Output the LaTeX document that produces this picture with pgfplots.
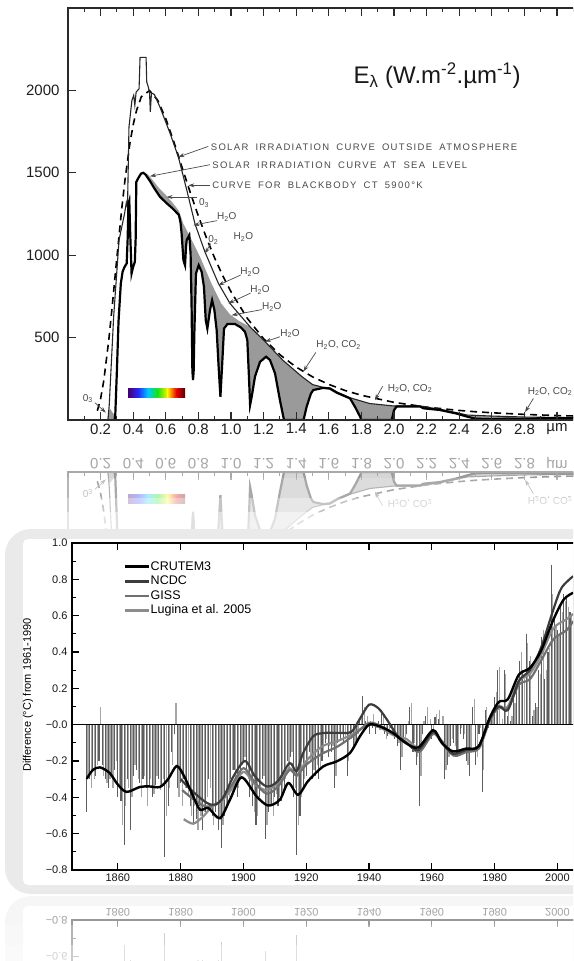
\documentclass[border=0pt]{standalone}
\usepackage{pgfplots}
\pgfplotsset{compat=1.18}
\usepackage{pgfplotstable}
\usetikzlibrary{arrows.meta}
\usepackage{graphicx}
\usepackage{fontspec}
\setmainfont{Liberation Sans}
\newfontfamily\annofamily[LetterSpace=14,WordSpace=1.8]{Liberation Sans}

\definecolor{fillgray}{HTML}{9A9A9A}
\definecolor{anno}{HTML}{4A4A4A}
\definecolor{framec}{HTML}{2A2A2A}
\definecolor{panelgray}{HTML}{EAEAEA}
\definecolor{barA}{HTML}{5E5E5E}
\definecolor{barB}{HTML}{A6A6A6}
\definecolor{ncdc}{HTML}{3C3C3C}
\definecolor{giss}{HTML}{707070}
\definecolor{lug}{HTML}{8C8C8C}

\newcommand\flip[1]{#1}

% ---------- solar spectrum data ----------
\pgfplotstableread{
x y
0.18 56
0.20 129
0.22 242
0.25 484
0.27 677
0.30 987
0.33 1285
0.35 1460
0.38 1681
0.40 1792
0.42 1877
0.45 1962
0.50 1999
0.55 1941
0.60 1828
0.65 1686
0.70 1532
0.75 1380
0.80 1237
0.85 1103
0.90 982
0.95 874
1.00 778
1.10 617
1.20 493
1.30 396
1.40 321
1.50 262
1.60 216
1.70 179
1.80 150
2.00 107
2.20 78
2.40 58
2.50 50
2.60 44
2.80 34
3.00 27
3.12 24
}\tabBB

\pgfplotstableread{
x y
0.245 0
0.253 91
0.28 626
0.313 1091
0.347 1253
0.358 1320
0.365 1290
0.374 1777
0.392 1939
0.403 1970
0.41 1910
0.418 1990
0.436 2010
0.442 2200
0.479 2200
0.483 2050
0.49 2030
0.50 1990
0.505 1870
0.512 1985
0.53 1975
0.564 1899
0.626 1740
0.677 1596
0.73 1390
0.779 1190
0.84 1020
0.922 830
0.994 707
1.117 565
1.209 475
1.321 360
1.433 265
1.5 215
1.566 198
1.607 195
1.65 170
1.73 135
1.85 100
2.0 85
2.16 85
2.2 78
2.28 66
2.38 45
2.45 30
2.6 24
2.8 18
3.12 14
}\tabT

\pgfplotstableread{
x y
0.462 1500
0.49 1490
0.52 1455
0.56 1405
0.60 1365
0.64 1320
0.68 1270
0.707 1192
0.744 1121
0.81 990
0.88 828
0.94 707
0.994 640
1.05 600
1.117 565
1.209 475
1.321 360
1.433 265
1.5 215
1.566 198
1.607 195
1.65 170
1.73 135
1.85 100
2.0 85
2.16 85
2.2 78
2.28 66
2.38 45
2.45 30
2.6 24
2.8 18
3.12 14
3.12 10
3.0 12
2.9 10
2.8 5
2.7 8
2.6 5
2.5 8
2.45 20
2.38 40
2.28 61
2.18 71
2.16 82
2.016 82
2.0 60
1.986 0
1.80 0
1.792 20
1.76 81
1.73 131
1.65 165
1.607 190
1.566 195
1.505 182
1.49 160
1.464 81
1.445 0
1.325 0
1.3 121
1.27 283
1.239 364
1.215 384
1.178 353
1.147 263
1.127 141
1.117 91
1.11 263
1.1 485
1.086 535
1.06 562
1.025 582
0.978 582
0.957 555
0.945 323
0.935 141
0.924 323
0.912 545
0.898 667
0.884 727
0.871 667
0.855 555
0.845 606
0.834 808
0.82 899
0.802 939
0.785 889
0.775 525
0.771 300
0.767 242
0.763 300
0.758 700
0.752 1010
0.744 1121
0.728 1091
0.724 1050
0.718 939
0.708 970
0.697 1131
0.69 1200
0.68 1245
0.64 1285
0.60 1320
0.564 1355
0.53 1405
0.503 1450
0.475 1490
0.462 1500
}\tabFill

\pgfplotstableread{
x y
0.285 0
0.29 30
0.30 300
0.31 600
0.324 828
0.335 900
0.347 929
0.36 950
0.366 1100
0.371 1313
0.376 1330
0.381 1150
0.39 889
0.40 930
0.41 960
0.415 1100
0.419 1444
0.43 1466
0.448 1495
0.462 1500
0.475 1490
0.503 1450
0.53 1405
0.564 1355
0.60 1320
0.64 1285
0.68 1245
0.69 1200
0.697 1131
0.708 970
0.718 939
0.724 1050
0.728 1091
0.744 1121
0.752 1010
0.758 700
0.763 300
0.767 242
0.771 300
0.775 525
0.785 889
0.802 939
0.82 899
0.834 808
0.845 606
0.855 555
0.871 667
0.884 727
0.898 667
0.912 545
0.924 323
0.935 141
0.945 323
0.957 555
0.978 582
1.025 582
1.06 562
1.086 535
1.1 485
1.11 263
1.117 91
1.127 141
1.147 263
1.178 353
1.215 384
1.239 364
1.27 283
1.3 121
1.325 0
1.445 0
1.464 81
1.49 160
1.505 182
1.566 195
1.607 190
1.65 165
1.73 131
1.76 81
1.792 20
1.80 0
1.986 0
2.0 60
2.016 82
2.16 82
2.18 71
2.28 61
2.38 40
2.45 20
2.5 8
2.6 5
2.7 8
2.8 5
2.9 10
3.0 12
3.12 10
}\tabS

% ---------- temperature data ----------
\pgfplotstableread{
year a b
1850 -0.48 -0.28
1851 -0.30 -0.35
1852 -0.25 -0.30
1853 -0.28 -0.22
1854 -0.20 0.10
1855 -0.22 -0.28
1856 -0.30 -0.32
1857 -0.35 -0.30
1858 -0.28 -0.35
1859 -0.25 -0.20
1860 -0.40 -0.33
1861 -0.42 -0.55
1862 -0.66 -0.45
1863 -0.30 -0.35
1864 -0.58 -0.40
1865 -0.28 -0.22
1866 -0.25 -0.30
1867 -0.32 -0.40
1868 -0.30 -0.28
1869 -0.35 -0.45
1870 -0.34 -0.30
1871 -0.40 -0.38
1872 -0.33 -0.28
1873 -0.30 -0.36
1874 -0.34 -0.30
1875 -0.73 -0.50
1876 -0.45 -0.35
1877 -0.15 -0.22
1878 -0.05 0.12
1879 -0.35 -0.40
1880 -0.32 -0.45
1881 -0.30 -0.35
1882 -0.35 -0.40
1883 -0.45 -0.50
1884 -0.55 -0.45
1885 -0.52 -0.58
1886 -0.45 -0.50
1887 -0.58 -0.48
1888 -0.48 -0.40
1889 -0.30 -0.35
1890 -0.50 -0.55
1891 -0.48 -0.45
1892 -0.58 -0.52
1893 -0.68 -0.55
1894 -0.50 -0.45
1895 -0.45 -0.40
1896 -0.30 -0.25
1897 -0.25 -0.30
1898 -0.40 -0.35
1899 -0.28 -0.22
1900 -0.20 -0.18
1901 -0.25 -0.30
1902 -0.40 -0.35
1903 -0.45 -0.48
1904 -0.55 -0.50
1905 -0.40 -0.35
1906 -0.30 -0.28
1907 -0.63 -0.55
1908 -0.48 -0.45
1909 -0.45 -0.50
1910 -0.40 -0.38
1911 -0.45 -0.40
1912 -0.42 -0.38
1913 -0.35 -0.30
1914 -0.20 -0.25
1915 -0.18 -0.15
1916 -0.40 -0.35
1917 -0.72 -0.55
1918 -0.50 -0.40
1919 -0.35 -0.30
1920 -0.28 -0.22
1921 -0.15 -0.20
1922 -0.30 -0.25
1923 -0.28 -0.22
1924 -0.30 -0.25
1925 -0.20 -0.15
1926 -0.10 -0.08
1927 -0.18 -0.12
1928 -0.15 -0.12
1929 -0.35 -0.28
1930 -0.10 -0.05
1931 -0.08 -0.05
1932 -0.10 -0.06
1933 -0.28 -0.20
1934 -0.05 -0.08
1935 -0.12 -0.10
1936 -0.10 -0.05
1937 0.02 0.05
1938 0.16 0.10
1939 0.02 0.05
1940 -0.05 0.02
1941 -0.02 0.06
1942 -0.05 -0.02
1943 0.02 -0.03
1944 0.08 0.05
1945 -0.05 -0.08
1946 -0.06 -0.03
1947 -0.02 -0.05
1948 -0.08 -0.06
1949 -0.12 -0.10
1950 -0.25 -0.18
1951 -0.10 -0.08
1952 -0.05 0.02
1953 0.10 0.12
1954 -0.15 -0.10
1955 -0.22 -0.18
1956 -0.45 -0.28
1957 -0.05 0.02
1958 0.05 0.10
1959 0.00 0.03
1960 -0.08 -0.05
1961 0.04 0.06
1962 0.03 0.08
1963 0.00 0.05
1964 -0.30 -0.25
1965 -0.22 -0.18
1966 -0.12 -0.08
1967 -0.10 -0.12
1968 -0.18 -0.15
1969 -0.05 -0.02
1970 -0.08 -0.05
1971 -0.20 -0.22
1972 -0.28 -0.15
1973 0.10 0.14
1974 -0.22 -0.18
1975 -0.05 -0.02
1976 -0.37 -0.25
1977 0.08 0.10
1978 -0.02 0.02
1979 0.05 0.08
1980 0.15 0.18
1981 0.30 0.32
1982 0.00 0.03
1983 0.30 0.28
1984 0.05 0.08
1985 0.02 0.05
1986 0.15 0.12
1987 0.20 0.25
1988 0.35 0.40
1989 0.30 0.28
1990 0.50 0.45
1991 0.35 0.38
1992 0.05 0.08
1993 0.12 0.10
1994 0.30 0.28
1995 0.48 0.52
1996 0.25 0.30
1997 0.40 0.42
1998 0.88 0.72
1999 0.60 0.55
2000 0.52 0.50
2001 0.65 0.62
2002 0.72 0.68
2003 0.70 0.65
2004 0.62 0.60
2005 0.80 0.75
}\tabBars

\pgfplotstableread{
x y
1850.1 -0.298
1852 -0.25
1854.3 -0.235
1857.4 -0.266
1860 -0.33
1862.8 -0.370
1867 -0.343
1870 -0.34
1873.4 -0.343
1876 -0.30
1878.7 -0.228
1881 -0.28
1884 -0.395
1886.2 -0.468
1888.8 -0.459
1892.5 -0.515
1895.7 -0.413
1899.4 -0.29
1904.2 -0.395
1907.9 -0.445
1911.6 -0.413
1914.3 -0.321
1917.4 -0.386
1920.6 -0.31
1925.4 -0.23
1929.7 -0.202
1933.9 -0.156
1937.1 -0.064
1940 0.0
1943.5 -0.01
1947.6 -0.046
1951.6 -0.10
1955.7 -0.125
1960.4 -0.03
1963.2 -0.10
1966.7 -0.147
1970.8 -0.132
1974.9 -0.119
1978.4 0.037
1981.3 0.125
1984.2 0.14
1987.7 0.275
1991.2 0.312
1994.7 0.404
1998.7 0.578
2002 0.689
2005 0.726
}\tabCru

\pgfplotstableread{
x y
1880 -0.30
1884 -0.37
1888.3 -0.43
1891 -0.44
1893.6 -0.40
1896.8 -0.285
1900.5 -0.20
1903.7 -0.285
1907.4 -0.34
1911 -0.31
1914.7 -0.211
1916.9 -0.257
1919 -0.156
1922.2 -0.064
1925.4 -0.046
1930 -0.045
1934.3 -0.04
1937 0.03
1940 0.11
1943 0.09
1946 0.02
1949 -0.06
1952 -0.10
1955.7 -0.14
1960.4 -0.04
1963.2 -0.10
1966.7 -0.16
1970.8 -0.14
1974.9 -0.12
1978.4 0.03
1981.3 0.10
1984.2 0.08
1987.7 0.24
1991.2 0.30
1994.7 0.42
1998.7 0.634
2001.3 0.753
2005 0.817
}\tabNcdc

\pgfplotstableread{
x y
1880.5 -0.36
1884 -0.41
1888 -0.45
1892 -0.43
1896 -0.34
1900 -0.24
1903.7 -0.32
1907.4 -0.38
1911 -0.34
1914.7 -0.25
1917 -0.28
1920 -0.22
1925 -0.16
1930 -0.12
1935 -0.06
1940 0.01
1944 -0.01
1948 -0.05
1952 -0.10
1956 -0.15
1960.4 -0.05
1963.2 -0.09
1967 -0.17
1971 -0.15
1975 -0.13
1978.4 0.02
1981.3 0.10
1984.2 0.09
1987.7 0.22
1991.2 0.25
1994.7 0.35
1998.7 0.47
2002.9 0.52
2005 0.57
}\tabGiss

\pgfplotstableread{
x y
1881 -0.52
1884 -0.545
1887.2 -0.505
1890 -0.45
1893 -0.42
1896 -0.36
1900 -0.26
1903.7 -0.33
1907.4 -0.36
1911 -0.32
1914.7 -0.24
1917 -0.28
1920 -0.20
1925 -0.12
1930 -0.09
1935 -0.05
1940 0.00
1944 -0.02
1948 -0.06
1952 -0.08
1956 -0.13
1960.4 -0.05
1963.2 -0.10
1967 -0.17
1971 -0.14
1975 -0.13
1978.4 0.03
1981.3 0.09
1984.2 0.10
1987.7 0.24
1991.2 0.28
1994.7 0.38
1998.7 0.53
2002.9 0.58
2005 0.61
}\tabLug

\pgfplotsset{
  topaxis/.style={
    scale only axis, width=508.6pt, height=412pt,
    xmin=0, xmax=3.12, ymin=0, ymax=2500,
    axis on top,
    axis line style={framec, line width=1.3pt},
    xtick={0.2,0.4,0.6,0.8,1.0,1.2,1.4,1.6,1.8,2.0,2.2,2.4,2.6,2.8,3.0},
    xticklabels={\flip{0.2},\flip{0.4},\flip{0.6},\flip{0.8},\flip{1.0},\flip{1.2},\flip{1.4},\flip{1.6},\flip{1.8},\flip{2.0},\flip{2.2},\flip{2.4},\flip{2.6},\flip{2.8},\flip{µm}},
    minor xtick={0.1,0.3,0.5,0.7,0.9,1.1,1.3,1.5,1.7,1.9,2.1,2.3,2.5,2.7,2.9,3.1},
    ytick={500,1000,1500,2000},
    yticklabels={500,1000,1500,2000},
    tick align=inside, xtick pos=both, xticklabel pos=lower, ytick pos=left,
    major tick length=8pt, minor tick length=4pt,
    every tick/.style={framec, line width=1.1pt},
    ticklabel style={font=\fontsize{15}{18}\selectfont, text=black!88},
    yticklabel style={xshift=-5pt},
  },
  botaxis/.style={
    scale only axis, width=504.3pt, height=327pt,
    xmin=1845.4, xmax=2006, ymin=-0.8, ymax=1.0,
    axis on top,
    axis line style={black, line width=1.3pt},
    xtick={1860,1880,1900,1920,1940,1960,1980,2000},
    xticklabels={\flip{1860},\flip{1880},\flip{1900},\flip{1920},\flip{1940},\flip{1960},\flip{1980},\flip{2000}},
    ytick={-0.8,-0.6,-0.4,-0.2,0,0.2,0.4,0.6,0.8,1.0},
    yticklabels={−0.8,−0.6,−0.4,−0.2,−0.0,0.2,0.4,0.6,0.8,1.0},
    minor ytick={-0.7,-0.5,-0.3,-0.1,0.1,0.3,0.5,0.7,0.9},
    tick align=inside, xtick pos=both, xticklabel pos=lower, ytick pos=left,
    major tick length=7pt, minor tick length=4pt,
    every tick/.style={black, line width=1.2pt},
    ticklabel style={font=\fontsize{11}{13}\selectfont, text=black!90},
    yticklabel style={xshift=-1pt},
  },
}

\newcommand\anno{\annofamily\fontsize{9.5}{11}\selectfont}
\newcommand\chem{\fontsize{10}{12}\selectfont}
\tikzset{ar/.style={draw=anno, line width=0.7pt, -{Stealth[length=6pt,width=4pt,fill=black]}}}

% parts of the spectrum that also show in the reflection
\newcommand\TopLow{%
  \addplot[fill=fillgray, draw=none, forget plot] table {\tabFill};
  \addplot[fill=fillgray, draw=none, forget plot] coordinates {(0.24,0) (0.256,70) (0.288,25) (0.288,0)};
  \shade[left color={rgb,255:red,70;green,0;blue,110}, right color={rgb,255:red,40;green,40;blue,255}] (axis cs:0.369,137) rectangle (axis cs:0.43,192);
  \shade[left color={rgb,255:red,40;green,40;blue,255}, right color={rgb,255:red,0;green,200;blue,255}] (axis cs:0.43,137) rectangle (axis cs:0.49,192);
  \shade[left color={rgb,255:red,0;green,200;blue,255}, right color={rgb,255:red,20;green,230;blue,20}] (axis cs:0.49,137) rectangle (axis cs:0.55,192);
  \shade[left color={rgb,255:red,20;green,230;blue,20}, right color={rgb,255:red,255;green,240;blue,0}] (axis cs:0.55,137) rectangle (axis cs:0.61,192);
  \shade[left color={rgb,255:red,255;green,240;blue,0}, right color={rgb,255:red,230;green,0;blue,0}] (axis cs:0.61,137) rectangle (axis cs:0.665,192);
  \shade[left color={rgb,255:red,230;green,0;blue,0}, right color={rgb,255:red,90;green,0;blue,0}] (axis cs:0.665,137) rectangle (axis cs:0.718,192);
  \addplot[black, line width=1.6pt, dash pattern=on 7pt off 5pt, forget plot] table {\tabBB};
  \addplot[black!85, line width=1.1pt, forget plot] table {\tabT};
  \addplot[black, line width=2.2pt, forget plot] table {\tabS};
  \node[text=anno, font=\chem, inner sep=0pt] at (axis cs:2.098,192) {\flip{H\textsubscript{2}O, CO\textsubscript{2}}};
  \draw[ar] (axis cs:1.93,205) -- (axis cs:1.883,121);
  \node[text=anno, font=\chem, inner sep=0pt] at (axis cs:2.957,172) {\flip{H\textsubscript{2}O, CO\textsubscript{2}}};
  \draw[ar] (axis cs:2.855,131) -- (axis cs:2.804,48);
  \node[text=anno, font=\chem, inner sep=0pt] at (axis cs:0.122,131) {\flip{0\textsubscript{3}}};
  \draw[ar] (axis cs:0.165,105) -- (axis cs:0.232,45);
}
\newcommand\TopHigh{%
  \node[anchor=west, text=anno, font=\anno, inner sep=0pt] at (axis cs:0.875,1656) {SOLAR IRRADIATION CURVE OUTSIDE ATMOSPHERE};
  \draw[ar] (axis cs:0.86,1660) -- (axis cs:0.677,1596);
  \node[anchor=west, text=anno, font=\anno, inner sep=0pt] at (axis cs:0.885,1545) {SOLAR IRRADIATION CURVE AT SEA LEVEL};
  \draw[ar] (axis cs:0.87,1549) -- (axis cs:0.503,1479);
  \node[anchor=west, text=anno, font=\anno, inner sep=0pt] at (axis cs:0.885,1424) {CURVE FOR BLACKBODY CT 5900°K};
  \draw[ar] (axis cs:0.87,1424) -- (axis cs:0.738,1424);
  \node[text=anno, font=\chem, inner sep=0pt] at (axis cs:0.835,1315) {0\textsubscript{3}};
  \draw[ar] (axis cs:0.79,1353) -- (axis cs:0.605,1353);
  \node[text=anno, font=\chem, inner sep=0pt] at (axis cs:0.974,1232) {H\textsubscript{2}O};
  \draw[ar] (axis cs:0.915,1210) -- (axis cs:0.769,1182);
  \node[text=anno, font=\chem, inner sep=0pt] at (axis cs:0.892,1091) {0\textsubscript{2}};
  \node[text=anno, font=\chem, inner sep=0pt] at (axis cs:1.076,1111) {H\textsubscript{2}O};
  \draw[ar] (axis cs:0.875,1070) -- (axis cs:0.84,1010);
  \node[text=anno, font=\chem, inner sep=0pt] at (axis cs:1.117,899) {H\textsubscript{2}O};
  \draw[ar] (axis cs:1.06,880) -- (axis cs:0.922,818);
  \node[text=anno, font=\chem, inner sep=0pt] at (axis cs:1.178,788) {H\textsubscript{2}O};
  \draw[ar] (axis cs:1.12,770) -- (axis cs:0.983,707);
  \node[text=anno, font=\chem, inner sep=0pt] at (axis cs:1.25,687) {H\textsubscript{2}O};
  \draw[ar] (axis cs:1.19,670) -- (axis cs:1.004,636);
  \node[text=anno, font=\chem, inner sep=0pt] at (axis cs:1.362,525) {H\textsubscript{2}O};
  \draw[ar] (axis cs:1.30,505) -- (axis cs:1.209,475);
  \node[text=anno, font=\chem, inner sep=0pt] at (axis cs:1.66,455) {H\textsubscript{2}O, CO\textsubscript{2}};
  \draw[ar] (axis cs:1.52,410) -- (axis cs:1.444,295);
}

\newcommand\BotBars{%
  \addplot[ycomb, barB, line width=1.3pt, forget plot] table[x expr=\thisrow{year}+0.5, y=b] {\tabBars};
  \addplot[ycomb, barA, line width=1.1pt, forget plot] table[x=year, y=a] {\tabBars};
  \addplot[black, line width=1pt, forget plot] coordinates {(1845.4,0) (2006,0)};
}
\newcommand\BotCurves{%
  \addplot[lug, line width=2.2pt, smooth] table {\tabLug};
  \addplot[giss, line width=2.2pt, smooth] table {\tabGiss};
  \addplot[ncdc, line width=2.2pt, smooth] table {\tabNcdc};
  \addplot[black, line width=2.4pt, smooth] table {\tabCru};
}

\begin{document}
\begin{tikzpicture}
\fill[white] (0pt,0pt) rectangle (573pt,-961pt);
\begin{scope}[overlay]
\clip (0pt,0pt) rectangle (573pt,-961pt);

% ---- reflection of the top chart ----
\begin{scope}
  \clip (0pt,-444pt) rectangle (573pt,-529pt);
  \renewcommand\flip[1]{\scalebox{1}[-1]{#1}}
  \begin{axis}[topaxis, y dir=reverse, xticklabel pos=upper, yticklabels={}, at={(68pt,-472pt)}, anchor=north west]
    \TopLow
  \end{axis}
  \fill[white, fill opacity=0.6] (0pt,-444pt) rectangle (573pt,-478pt);
  \fill[white, fill opacity=0.66] (0pt,-478pt) rectangle (573pt,-498pt);
  \fill[white, fill opacity=0.77] (0pt,-498pt) rectangle (573pt,-512pt);
  \fill[white, fill opacity=0.88] (0pt,-512pt) rectangle (573pt,-529pt);
\end{scope}

% ---- top chart ----
\begin{axis}[topaxis, at={(68pt,-420pt)}, anchor=south west]
  \TopLow
  \TopHigh
  \node[font=\fontsize{24}{28}\selectfont, text=black!90] at (axis cs:2.264,2091) {E\textsubscript{λ} (W.m\textsuperscript{-2}.µm\textsuperscript{-1})};
\end{axis}

% ---- panel of the lower chart ----
\fill[panelgray, rounded corners=26pt] (5pt,-529pt) rectangle (650pt,-894pt);
\fill[white, rounded corners=5pt] (23pt,-539pt) rectangle (650pt,-885pt);

% ---- lower chart ----
\begin{axis}[botaxis, at={(72pt,-870pt)}, anchor=south west,
    ylabel={Difference (°C) from 1961-1990},
    every axis y label/.style={at={(axis description cs:-0.087,0.535)}, rotate=90, anchor=center, font=\fontsize{11}{13}\selectfont},
    legend entries={Lugina et al. 2005, GISS, NCDC, CRUTEM3},
    reverse legend,
    legend cell align=left,
    legend image code/.code={\draw[#1, line width=2.6pt] (0pt,0pt) -- (24pt,0pt);},
    legend style={at={(axis description cs:0.103,0.945)}, anchor=north west, draw=none, fill=none,
      font=\fontsize{12.5}{14}\selectfont, inner sep=0pt, row sep=3.6pt,
      nodes={inner sep=0pt, text height=9pt, text depth=2pt},
      /tikz/every even column/.append style={column sep=11pt}},
  ]
  \BotBars
  \BotCurves
\end{axis}

% ---- reflection of the lower chart ----
\begin{scope}
  \clip (0pt,-894pt) rectangle (573pt,-961pt);
  \renewcommand\flip[1]{\scalebox{1}[-1]{#1}}
  \fill[panelgray, rounded corners=26pt] (5pt,-896pt) rectangle (650pt,-1300pt);
  \fill[white, rounded corners=5pt] (23pt,-906pt) rectangle (650pt,-1300pt);
  \begin{axis}[botaxis, y dir=reverse, xticklabel pos=upper,
      yticklabels={\flip{−0.8},\flip{−0.6},{},{},{},{},{},{},{},{}},
      at={(72pt,-920pt)}, anchor=north west]
    \BotBars
  \end{axis}
  \fill[white, fill opacity=0.6] (0pt,-894pt) rectangle (573pt,-925pt);
  \fill[white, fill opacity=0.7] (0pt,-925pt) rectangle (573pt,-945pt);
  \fill[white, fill opacity=0.8] (0pt,-945pt) rectangle (573pt,-961pt);
\end{scope}
\end{scope}
\end{tikzpicture}
\end{document}
